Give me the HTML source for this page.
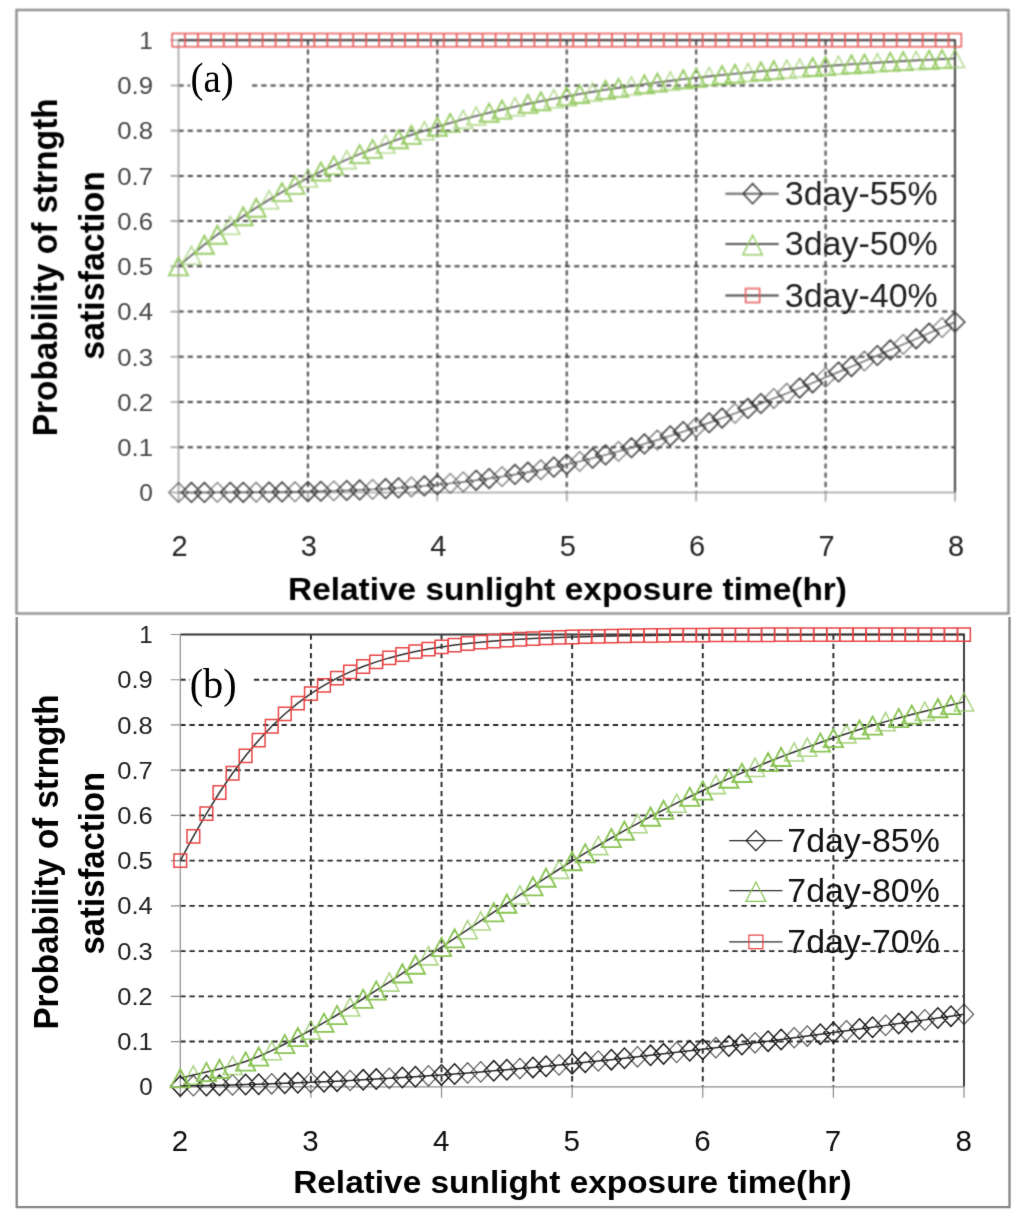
<!DOCTYPE html>
<html lang="en"><head><meta charset="utf-8"><title>Probability of strength satisfaction</title>
<style>html,body{margin:0;padding:0;background:#fff}body{width:1024px;height:1221px;overflow:hidden}svg{display:block}</style></head>
<body>
<svg width="1024" height="1221" viewBox="0 0 1024 1221">
<defs>
<filter id="fAs" x="0" y="0" width="1024" height="616" filterUnits="userSpaceOnUse" color-interpolation-filters="sRGB"><feConvolveMatrix order="3" kernelMatrix="0.0791 0.1230 0.0791 0.1230 0.1914 0.1230 0.0791 0.1230 0.0791"/></filter>
<filter id="fAt" x="0" y="0" width="1024" height="616" filterUnits="userSpaceOnUse" color-interpolation-filters="sRGB"><feConvolveMatrix order="3" kernelMatrix="0.0324 0.1152 0.0324 0.1152 0.4096 0.1152 0.0324 0.1152 0.0324"/></filter>
<filter id="fAl" x="0" y="0" width="1024" height="616" filterUnits="userSpaceOnUse" color-interpolation-filters="sRGB"><feConvolveMatrix order="3" kernelMatrix="0.0038 0.0537 0.0038 0.0537 0.7700 0.0537 0.0038 0.0537 0.0038"/></filter>
<filter id="fBs" x="0" y="612" width="1024" height="609" filterUnits="userSpaceOnUse" color-interpolation-filters="sRGB"><feConvolveMatrix order="3" kernelMatrix="0.0103 0.0807 0.0103 0.0807 0.6360 0.0807 0.0103 0.0807 0.0103"/></filter>
<filter id="fBt" x="0" y="612" width="1024" height="609" filterUnits="userSpaceOnUse" color-interpolation-filters="sRGB"><feConvolveMatrix order="3" kernelMatrix="0.0064 0.0672 0.0064 0.0672 0.7056 0.0672 0.0064 0.0672 0.0064"/></filter>
<filter id="fBl" x="0" y="612" width="1024" height="609" filterUnits="userSpaceOnUse" color-interpolation-filters="sRGB"><feConvolveMatrix order="3" kernelMatrix="0.0038 0.0537 0.0038 0.0537 0.7700 0.0537 0.0038 0.0537 0.0038"/></filter>
</defs>
<rect width="1024" height="1221" fill="#fff"/>
<g id="panel-a">
<g filter="url(#fAs)">
<rect x="16.5" y="10" width="992" height="603.5" fill="none" stroke="#8c8c8c" stroke-width="2.3"/>
<line x1="178.5" y1="447.27" x2="955" y2="447.27" stroke="#464646" stroke-width="2.0" stroke-dasharray="5.2 4.0"/>
<line x1="178.5" y1="402.04" x2="955" y2="402.04" stroke="#464646" stroke-width="2.0" stroke-dasharray="5.2 4.0"/>
<line x1="178.5" y1="356.81" x2="955" y2="356.81" stroke="#464646" stroke-width="2.0" stroke-dasharray="5.2 4.0"/>
<line x1="178.5" y1="311.58" x2="955" y2="311.58" stroke="#464646" stroke-width="2.0" stroke-dasharray="5.2 4.0"/>
<line x1="178.5" y1="266.35" x2="955" y2="266.35" stroke="#464646" stroke-width="2.0" stroke-dasharray="5.2 4.0"/>
<line x1="178.5" y1="221.12" x2="955" y2="221.12" stroke="#464646" stroke-width="2.0" stroke-dasharray="5.2 4.0"/>
<line x1="178.5" y1="175.89" x2="955" y2="175.89" stroke="#464646" stroke-width="2.0" stroke-dasharray="5.2 4.0"/>
<line x1="178.5" y1="130.66" x2="955" y2="130.66" stroke="#464646" stroke-width="2.0" stroke-dasharray="5.2 4.0"/>
<line x1="178.5" y1="85.43" x2="955" y2="85.43" stroke="#464646" stroke-width="2.0" stroke-dasharray="5.2 4.0"/>
<line x1="307.92" y1="40.2" x2="307.92" y2="492.5" stroke="#464646" stroke-width="2.0" stroke-dasharray="5.2 4.0"/>
<line x1="437.33" y1="40.2" x2="437.33" y2="492.5" stroke="#464646" stroke-width="2.0" stroke-dasharray="5.2 4.0"/>
<line x1="566.75" y1="40.2" x2="566.75" y2="492.5" stroke="#464646" stroke-width="2.0" stroke-dasharray="5.2 4.0"/>
<line x1="696.17" y1="40.2" x2="696.17" y2="492.5" stroke="#464646" stroke-width="2.0" stroke-dasharray="5.2 4.0"/>
<line x1="825.58" y1="40.2" x2="825.58" y2="492.5" stroke="#464646" stroke-width="2.0" stroke-dasharray="5.2 4.0"/>
<path d="M178.5 40.2H955V492.5" fill="none" stroke="#484848" stroke-width="2.1"/>
<path d="M178.5 40.2V501.5M170.5 492.5H955M170.5 447.27H178.5M170.5 402.04H178.5M170.5 356.81H178.5M170.5 311.58H178.5M170.5 266.35H178.5M170.5 221.12H178.5M170.5 175.89H178.5M170.5 130.66H178.5M170.5 85.43H178.5M170.5 40.2H178.5M307.92 492.5V501.5M437.33 492.5V501.5M566.75 492.5V501.5M696.17 492.5V501.5M825.58 492.5V501.5M955 492.5V501.5" fill="none" stroke="#a0a0a0" stroke-width="1.6"/>
<rect x="190" y="56" width="62" height="50" fill="#fff"/>
<polyline fill="none" stroke="#666" stroke-width="1.4" points="178.5,492.48 191.44,492.47 204.38,492.45 217.32,492.41 230.27,492.37 243.21,492.31 256.15,492.23 269.09,492.11 282.03,491.97 294.97,491.79 307.92,491.55 320.86,491.26 333.8,490.91 346.74,490.49 359.68,489.98 372.62,489.38 385.57,488.69 398.51,487.88 411.45,486.96 424.39,485.91 437.33,484.73 450.27,483.4 463.22,481.93 476.16,480.31 489.1,478.53 502.04,476.58 514.98,474.47 527.92,472.19 540.87,469.73 553.81,467.11 566.75,464.31 579.69,461.33 592.63,458.19 605.58,454.88 618.52,451.4 631.46,447.75 644.4,443.95 657.34,439.99 670.28,435.89 683.23,431.64 696.17,427.26 709.11,422.74 722.05,418.1 734.99,413.35 747.93,408.48 760.88,403.51 773.82,398.45 786.76,393.31 799.7,388.08 812.64,382.78 825.58,377.42 838.53,372.01 851.47,366.55 864.41,361.05 877.35,355.51 890.29,349.95 903.23,344.37 916.18,338.78 929.12,333.18 942.06,327.59 955,322"/>
<path d="M181.64 492.47L191.44 482.67L201.24 492.47L191.44 502.27zM194.58 492.45L204.38 482.65L214.18 492.45L204.38 502.25zM220.47 492.37L230.27 482.57L240.07 492.37L230.27 502.17zM233.41 492.31L243.21 482.51L253.01 492.31L243.21 502.11zM259.29 492.11L269.09 482.31L278.89 492.11L269.09 501.91zM272.23 491.97L282.03 482.17L291.83 491.97L282.03 501.77zM298.12 491.55L307.92 481.75L317.72 491.55L307.92 501.35zM311.06 491.26L320.86 481.46L330.66 491.26L320.86 501.06zM336.94 490.49L346.74 480.69L356.54 490.49L346.74 500.29zM349.88 489.98L359.68 480.18L369.48 489.98L359.68 499.78zM375.77 488.69L385.57 478.89L395.37 488.69L385.57 498.49zM388.71 487.88L398.51 478.08L408.31 487.88L398.51 497.68zM414.59 485.91L424.39 476.11L434.19 485.91L424.39 495.71zM427.53 484.73L437.33 474.93L447.13 484.73L437.33 494.53zM466.36 480.31L476.16 470.51L485.96 480.31L476.16 490.11zM479.3 478.53L489.1 468.73L498.9 478.53L489.1 488.33zM505.18 474.47L514.98 464.67L524.78 474.47L514.98 484.27zM518.12 472.19L527.92 462.39L537.72 472.19L527.92 481.99zM544.01 467.11L553.81 457.31L563.61 467.11L553.81 476.91zM556.95 464.31L566.75 454.51L576.55 464.31L566.75 474.11zM582.83 458.19L592.63 448.39L602.43 458.19L592.63 467.99zM595.78 454.88L605.58 445.08L615.38 454.88L605.58 464.68zM621.66 447.75L631.46 437.95L641.26 447.75L631.46 457.55zM634.6 443.95L644.4 434.15L654.2 443.95L644.4 453.75zM660.48 435.89L670.28 426.09L680.08 435.89L670.28 445.69zM673.43 431.64L683.23 421.84L693.03 431.64L683.23 441.44zM699.31 422.74L709.11 412.94L718.91 422.74L709.11 432.54zM712.25 418.1L722.05 408.3L731.85 418.1L722.05 427.9zM738.13 408.48L747.93 398.68L757.73 408.48L747.93 418.28zM751.08 403.51L760.88 393.71L770.67 403.51L760.88 413.31zM789.9 388.08L799.7 378.28L809.5 388.08L799.7 397.88zM802.84 382.78L812.64 372.98L822.44 382.78L812.64 392.58zM828.73 372.01L838.53 362.21L848.33 372.01L838.53 381.81zM841.67 366.55L851.47 356.75L861.27 366.55L851.47 376.35zM867.55 355.51L877.35 345.71L887.15 355.51L877.35 365.31zM880.49 349.95L890.29 340.15L900.09 349.95L890.29 359.75zM906.38 338.78L916.18 328.98L925.98 338.78L916.18 348.58zM919.32 333.18L929.12 323.38L938.92 333.18L929.12 342.98zM945.2 322L955 312.2L964.8 322L955 331.8z" fill="none" stroke="#383838" stroke-width="1.5" stroke-linejoin="miter"/>
<path d="M168.7 492.48L178.5 482.68L188.3 492.48L178.5 502.28zM207.52 492.41L217.32 482.61L227.12 492.41L217.32 502.21zM246.35 492.23L256.15 482.43L265.95 492.23L256.15 502.03zM285.17 491.79L294.97 481.99L304.77 491.79L294.97 501.59zM324 490.91L333.8 481.11L343.6 490.91L333.8 500.71zM362.82 489.38L372.62 479.58L382.43 489.38L372.62 499.18zM401.65 486.96L411.45 477.16L421.25 486.96L411.45 496.76zM440.47 483.4L450.27 473.6L460.07 483.4L450.27 493.2zM453.42 481.93L463.22 472.13L473.02 481.93L463.22 491.73zM492.24 476.58L502.04 466.78L511.84 476.58L502.04 486.38zM531.07 469.73L540.87 459.93L550.67 469.73L540.87 479.53zM569.89 461.33L579.69 451.53L589.49 461.33L579.69 471.13zM608.72 451.4L618.52 441.6L628.32 451.4L618.52 461.2zM647.54 439.99L657.34 430.19L667.14 439.99L657.34 449.79zM686.37 427.26L696.17 417.46L705.97 427.26L696.17 437.06zM725.19 413.35L734.99 403.55L744.79 413.35L734.99 423.15zM764.02 398.45L773.82 388.65L783.62 398.45L773.82 408.25zM776.96 393.31L786.76 383.51L796.56 393.31L786.76 403.11zM815.78 377.42L825.58 367.62L835.38 377.42L825.58 387.22zM854.61 361.05L864.41 351.25L874.21 361.05L864.41 370.85zM893.43 344.37L903.23 334.57L913.03 344.37L903.23 354.17zM932.26 327.59L942.06 317.79L951.86 327.59L942.06 337.39z" fill="none" stroke="#383838" stroke-width="1.27" stroke-opacity="0.7" stroke-linejoin="miter"/>
<polyline fill="none" stroke="#555" stroke-width="1.6" points="178.5,266.35 191.44,255.26 204.38,244.73 217.32,234.74 230.27,225.26 243.21,216.28 256.15,207.77 269.09,199.71 282.03,192.08 294.97,184.86 307.92,178.02 320.86,171.55 333.8,165.42 346.74,159.62 359.68,154.12 372.62,148.92 385.57,143.99 398.51,139.31 411.45,134.88 424.39,130.68 437.33,126.69 450.27,122.91 463.22,119.32 476.16,115.92 489.1,112.68 502.04,109.6 514.98,106.68 527.92,103.9 540.87,101.26 553.81,98.74 566.75,96.35 579.69,94.07 592.63,91.9 605.58,89.83 618.52,87.86 631.46,85.98 644.4,84.19 657.34,82.48 670.28,80.85 683.23,79.29 696.17,77.8 709.11,76.38 722.05,75.03 734.99,73.73 747.93,72.49 760.88,71.3 773.82,70.16 786.76,69.08 799.7,68.04 812.64,67.04 825.58,66.08 838.53,65.17 851.47,64.29 864.41,63.45 877.35,62.65 890.29,61.87 903.23,61.13 916.18,60.42 929.12,59.73 942.06,59.08 955,58.45"/>
<path d="M178.5 257.35L188 275.35L169 275.35zM204.38 235.73L213.88 253.73L194.88 253.73zM217.32 225.74L226.82 243.74L207.82 243.74zM243.21 207.28L252.71 225.28L233.71 225.28zM256.15 198.77L265.65 216.77L246.65 216.77zM282.03 183.08L291.53 201.08L272.53 201.08zM294.97 175.86L304.47 193.86L285.47 193.86zM320.86 162.55L330.36 180.55L311.36 180.55zM333.8 156.42L343.3 174.42L324.3 174.42zM359.68 145.12L369.18 163.12L350.18 163.12zM372.62 139.92L382.12 157.92L363.12 157.92zM398.51 130.31L408.01 148.31L389.01 148.31zM411.45 125.88L420.95 143.88L401.95 143.88zM437.33 117.69L446.83 135.69L427.83 135.69zM450.27 113.91L459.77 131.91L440.77 131.91zM489.1 103.68L498.6 121.68L479.6 121.68zM502.04 100.6L511.54 118.6L492.54 118.6zM527.92 94.9L537.42 112.9L518.42 112.9zM540.87 92.26L550.37 110.26L531.37 110.26zM566.75 87.35L576.25 105.35L557.25 105.35zM579.69 85.07L589.19 103.07L570.19 103.07zM605.58 80.83L615.08 98.83L596.08 98.83zM618.52 78.86L628.02 96.86L609.02 96.86zM644.4 75.19L653.9 93.19L634.9 93.19zM657.34 73.48L666.84 91.48L647.84 91.48zM683.23 70.29L692.73 88.29L673.73 88.29zM696.17 68.8L705.67 86.8L686.67 86.8zM722.05 66.03L731.55 84.03L712.55 84.03zM734.99 64.73L744.49 82.73L725.49 82.73zM760.88 62.3L770.38 80.3L751.38 80.3zM773.82 61.16L783.32 79.16L764.32 79.16zM812.64 58.04L822.14 76.04L803.14 76.04zM825.58 57.08L835.08 75.08L816.08 75.08zM851.47 55.29L860.97 73.29L841.97 73.29zM864.41 54.45L873.91 72.45L854.91 72.45zM890.29 52.87L899.79 70.87L880.79 70.87zM903.23 52.13L912.73 70.13L893.73 70.13zM929.12 50.73L938.62 68.73L919.62 68.73zM942.06 50.08L951.56 68.08L932.56 68.08z" fill="none" stroke="#98cc66" stroke-width="1.9" stroke-linejoin="miter"/>
<path d="M191.44 246.26L200.94 264.26L181.94 264.26zM230.27 216.26L239.77 234.26L220.77 234.26zM269.09 190.71L278.59 208.71L259.59 208.71zM307.92 169.02L317.42 187.02L298.42 187.02zM346.74 150.62L356.24 168.62L337.24 168.62zM385.57 134.99L395.07 152.99L376.07 152.99zM424.39 121.68L433.89 139.68L414.89 139.68zM463.22 110.32L472.72 128.32L453.72 128.32zM476.16 106.92L485.66 124.92L466.66 124.92zM514.98 97.68L524.48 115.68L505.48 115.68zM553.81 89.74L563.31 107.74L544.31 107.74zM592.63 82.9L602.13 100.9L583.13 100.9zM631.46 76.98L640.96 94.98L621.96 94.98zM670.28 71.85L679.78 89.85L660.78 89.85zM709.11 67.38L718.61 85.38L699.61 85.38zM747.93 63.49L757.43 81.49L738.43 81.49zM786.76 60.08L796.26 78.08L777.26 78.08zM799.7 59.04L809.2 77.04L790.2 77.04zM838.53 56.17L848.03 74.17L829.03 74.17zM877.35 53.65L886.85 71.65L867.85 71.65zM916.18 51.42L925.68 69.42L906.68 69.42zM955 49.45L964.5 67.45L945.5 67.45z" fill="none" stroke="#98cc66" stroke-width="1.61" stroke-opacity="0.7" stroke-linejoin="miter"/>
<polyline fill="none" stroke="#444" stroke-width="1.8" points="178.5,40.2 191.44,40.2 204.38,40.2 217.32,40.2 230.27,40.2 243.21,40.2 256.15,40.2 269.09,40.2 282.03,40.2 294.97,40.2 307.92,40.2 320.86,40.2 333.8,40.2 346.74,40.2 359.68,40.2 372.62,40.2 385.57,40.2 398.51,40.2 411.45,40.2 424.39,40.2 437.33,40.2 450.27,40.2 463.22,40.2 476.16,40.2 489.1,40.2 502.04,40.2 514.98,40.2 527.92,40.2 540.87,40.2 553.81,40.2 566.75,40.2 579.69,40.2 592.63,40.2 605.58,40.2 618.52,40.2 631.46,40.2 644.4,40.2 657.34,40.2 670.28,40.2 683.23,40.2 696.17,40.2 709.11,40.2 722.05,40.2 734.99,40.2 747.93,40.2 760.88,40.2 773.82,40.2 786.76,40.2 799.7,40.2 812.64,40.2 825.58,40.2 838.53,40.2 851.47,40.2 864.41,40.2 877.35,40.2 890.29,40.2 903.23,40.2 916.18,40.2 929.12,40.2 942.06,40.2 955,40.2"/>
<path d="M172.15 33.6h12.7v13.2h-12.7zM185.09 33.6h12.7v13.2h-12.7zM198.03 33.6h12.7v13.2h-12.7zM210.97 33.6h12.7v13.2h-12.7zM223.92 33.6h12.7v13.2h-12.7zM236.86 33.6h12.7v13.2h-12.7zM249.8 33.6h12.7v13.2h-12.7zM262.74 33.6h12.7v13.2h-12.7zM275.68 33.6h12.7v13.2h-12.7zM288.62 33.6h12.7v13.2h-12.7zM301.57 33.6h12.7v13.2h-12.7zM314.51 33.6h12.7v13.2h-12.7zM327.45 33.6h12.7v13.2h-12.7zM340.39 33.6h12.7v13.2h-12.7zM353.33 33.6h12.7v13.2h-12.7zM366.27 33.6h12.7v13.2h-12.7zM379.22 33.6h12.7v13.2h-12.7zM392.16 33.6h12.7v13.2h-12.7zM405.1 33.6h12.7v13.2h-12.7zM418.04 33.6h12.7v13.2h-12.7zM430.98 33.6h12.7v13.2h-12.7zM443.92 33.6h12.7v13.2h-12.7zM456.87 33.6h12.7v13.2h-12.7zM469.81 33.6h12.7v13.2h-12.7zM482.75 33.6h12.7v13.2h-12.7zM495.69 33.6h12.7v13.2h-12.7zM508.63 33.6h12.7v13.2h-12.7zM521.57 33.6h12.7v13.2h-12.7zM534.52 33.6h12.7v13.2h-12.7zM547.46 33.6h12.7v13.2h-12.7zM560.4 33.6h12.7v13.2h-12.7zM573.34 33.6h12.7v13.2h-12.7zM586.28 33.6h12.7v13.2h-12.7zM599.23 33.6h12.7v13.2h-12.7zM612.17 33.6h12.7v13.2h-12.7zM625.11 33.6h12.7v13.2h-12.7zM638.05 33.6h12.7v13.2h-12.7zM650.99 33.6h12.7v13.2h-12.7zM663.93 33.6h12.7v13.2h-12.7zM676.88 33.6h12.7v13.2h-12.7zM689.82 33.6h12.7v13.2h-12.7zM702.76 33.6h12.7v13.2h-12.7zM715.7 33.6h12.7v13.2h-12.7zM728.64 33.6h12.7v13.2h-12.7zM741.58 33.6h12.7v13.2h-12.7zM754.52 33.6h12.7v13.2h-12.7zM767.47 33.6h12.7v13.2h-12.7zM780.41 33.6h12.7v13.2h-12.7zM793.35 33.6h12.7v13.2h-12.7zM806.29 33.6h12.7v13.2h-12.7zM819.23 33.6h12.7v13.2h-12.7zM832.18 33.6h12.7v13.2h-12.7zM845.12 33.6h12.7v13.2h-12.7zM858.06 33.6h12.7v13.2h-12.7zM871 33.6h12.7v13.2h-12.7zM883.94 33.6h12.7v13.2h-12.7zM896.88 33.6h12.7v13.2h-12.7zM909.83 33.6h12.7v13.2h-12.7zM922.77 33.6h12.7v13.2h-12.7zM935.71 33.6h12.7v13.2h-12.7zM948.65 33.6h12.7v13.2h-12.7z" fill="none" stroke="#ea5858" stroke-width="1.5" stroke-linejoin="miter"/>
<line x1="725.4" y1="193.7" x2="778.7" y2="193.7" stroke="#666" stroke-width="2"/>
<path d="M743.1 193.7L752.6 183.7L762.1 193.7L752.6 203.7z" fill="none" stroke="#383838" stroke-width="1.5"/>
<line x1="725.4" y1="244" x2="778.7" y2="244" stroke="#555" stroke-width="2"/>
<path d="M752.6 235.25L762.35 254.75L742.85 254.75z" fill="none" stroke="#98cc66" stroke-width="1.5"/>
<line x1="725.4" y1="295.5" x2="778.7" y2="295.5" stroke="#444" stroke-width="2"/>
<path d="M745.6 288.5h14v14h-14z" fill="none" stroke="#ea5858" stroke-width="1.5"/>
</g>
<g filter="url(#fAl)">
<text x="190.5" y="91.6" font-family="'Liberation Serif', serif" font-size="43" fill="#000" textLength="43.2" lengthAdjust="spacingAndGlyphs">(a)</text>
</g>
<g filter="url(#fAt)">
<text x="153" y="501.3" text-anchor="end" font-family="'Liberation Sans', sans-serif" font-size="24.5" fill="#484848">0</text>
<text x="153" y="456.07" text-anchor="end" font-family="'Liberation Sans', sans-serif" font-size="24.5" fill="#484848" textLength="35.8" lengthAdjust="spacingAndGlyphs">0.1</text>
<text x="153" y="410.84" text-anchor="end" font-family="'Liberation Sans', sans-serif" font-size="24.5" fill="#484848" textLength="35.8" lengthAdjust="spacingAndGlyphs">0.2</text>
<text x="153" y="365.61" text-anchor="end" font-family="'Liberation Sans', sans-serif" font-size="24.5" fill="#484848" textLength="35.8" lengthAdjust="spacingAndGlyphs">0.3</text>
<text x="153" y="320.38" text-anchor="end" font-family="'Liberation Sans', sans-serif" font-size="24.5" fill="#484848" textLength="35.8" lengthAdjust="spacingAndGlyphs">0.4</text>
<text x="153" y="275.15" text-anchor="end" font-family="'Liberation Sans', sans-serif" font-size="24.5" fill="#484848" textLength="35.8" lengthAdjust="spacingAndGlyphs">0.5</text>
<text x="153" y="229.92" text-anchor="end" font-family="'Liberation Sans', sans-serif" font-size="24.5" fill="#484848" textLength="35.8" lengthAdjust="spacingAndGlyphs">0.6</text>
<text x="153" y="184.69" text-anchor="end" font-family="'Liberation Sans', sans-serif" font-size="24.5" fill="#484848" textLength="35.8" lengthAdjust="spacingAndGlyphs">0.7</text>
<text x="153" y="139.46" text-anchor="end" font-family="'Liberation Sans', sans-serif" font-size="24.5" fill="#484848" textLength="35.8" lengthAdjust="spacingAndGlyphs">0.8</text>
<text x="153" y="94.23" text-anchor="end" font-family="'Liberation Sans', sans-serif" font-size="24.5" fill="#484848" textLength="35.8" lengthAdjust="spacingAndGlyphs">0.9</text>
<text x="153" y="49" text-anchor="end" font-family="'Liberation Sans', sans-serif" font-size="24.5" fill="#484848">1</text>
<text x="179.5" y="556.2" text-anchor="middle" font-family="'Liberation Sans', sans-serif" font-size="29" fill="#262626">2</text>
<text x="308.92" y="556.2" text-anchor="middle" font-family="'Liberation Sans', sans-serif" font-size="29" fill="#262626">3</text>
<text x="438.33" y="556.2" text-anchor="middle" font-family="'Liberation Sans', sans-serif" font-size="29" fill="#262626">4</text>
<text x="567.75" y="556.2" text-anchor="middle" font-family="'Liberation Sans', sans-serif" font-size="29" fill="#262626">5</text>
<text x="697.17" y="556.2" text-anchor="middle" font-family="'Liberation Sans', sans-serif" font-size="29" fill="#262626">6</text>
<text x="826.58" y="556.2" text-anchor="middle" font-family="'Liberation Sans', sans-serif" font-size="29" fill="#262626">7</text>
<text x="956" y="556.2" text-anchor="middle" font-family="'Liberation Sans', sans-serif" font-size="29" fill="#262626">8</text>
<text x="288" y="599.8" font-family="'Liberation Sans', sans-serif" font-weight="bold" font-size="32" fill="#000" textLength="559" lengthAdjust="spacingAndGlyphs">Relative sunlight exposure time(hr)</text>
<text transform="translate(57.3 267.3) rotate(-90)" x="-169.0" y="0" font-family="'Liberation Sans', sans-serif" font-weight="bold" font-size="35.5" fill="#000" textLength="338" lengthAdjust="spacingAndGlyphs">Probability of strngth</text>
<text transform="translate(103.6 265.4) rotate(-90)" x="-94.25" y="0" font-family="'Liberation Sans', sans-serif" font-weight="bold" font-size="35.5" fill="#000" textLength="188.5" lengthAdjust="spacingAndGlyphs">satisfaction</text>
<text x="784.8" y="204.7" font-family="'Liberation Sans', sans-serif" font-size="33" fill="#222" textLength="153" lengthAdjust="spacingAndGlyphs">3day-55%</text>
<text x="784.8" y="255" font-family="'Liberation Sans', sans-serif" font-size="33" fill="#222" textLength="153" lengthAdjust="spacingAndGlyphs">3day-50%</text>
<text x="784.8" y="306.5" font-family="'Liberation Sans', sans-serif" font-size="33" fill="#222" textLength="153" lengthAdjust="spacingAndGlyphs">3day-40%</text></g>
</g>
<g id="panel-b">
<g filter="url(#fBs)">
<path d="M16.7 617V1207.2H1009.5V617" fill="none" stroke="#868686" stroke-width="2.3"/>
<line x1="180.3" y1="1041.57" x2="964" y2="1041.57" stroke="#2a2a2a" stroke-width="1.9" stroke-dasharray="5.3 3.9"/>
<line x1="180.3" y1="996.34" x2="964" y2="996.34" stroke="#2a2a2a" stroke-width="1.9" stroke-dasharray="5.3 3.9"/>
<line x1="180.3" y1="951.11" x2="964" y2="951.11" stroke="#2a2a2a" stroke-width="1.9" stroke-dasharray="5.3 3.9"/>
<line x1="180.3" y1="905.88" x2="964" y2="905.88" stroke="#2a2a2a" stroke-width="1.9" stroke-dasharray="5.3 3.9"/>
<line x1="180.3" y1="860.65" x2="964" y2="860.65" stroke="#2a2a2a" stroke-width="1.9" stroke-dasharray="5.3 3.9"/>
<line x1="180.3" y1="815.42" x2="964" y2="815.42" stroke="#2a2a2a" stroke-width="1.9" stroke-dasharray="5.3 3.9"/>
<line x1="180.3" y1="770.19" x2="964" y2="770.19" stroke="#2a2a2a" stroke-width="1.9" stroke-dasharray="5.3 3.9"/>
<line x1="180.3" y1="724.96" x2="964" y2="724.96" stroke="#2a2a2a" stroke-width="1.9" stroke-dasharray="5.3 3.9"/>
<line x1="180.3" y1="679.73" x2="964" y2="679.73" stroke="#2a2a2a" stroke-width="1.9" stroke-dasharray="5.3 3.9"/>
<line x1="310.92" y1="634.5" x2="310.92" y2="1086.8" stroke="#2a2a2a" stroke-width="1.9" stroke-dasharray="5.3 3.9"/>
<line x1="441.53" y1="634.5" x2="441.53" y2="1086.8" stroke="#2a2a2a" stroke-width="1.9" stroke-dasharray="5.3 3.9"/>
<line x1="572.15" y1="634.5" x2="572.15" y2="1086.8" stroke="#2a2a2a" stroke-width="1.9" stroke-dasharray="5.3 3.9"/>
<line x1="702.77" y1="634.5" x2="702.77" y2="1086.8" stroke="#2a2a2a" stroke-width="1.9" stroke-dasharray="5.3 3.9"/>
<line x1="833.38" y1="634.5" x2="833.38" y2="1086.8" stroke="#2a2a2a" stroke-width="1.9" stroke-dasharray="5.3 3.9"/>
<path d="M180.3 634.5H964V1086.8" fill="none" stroke="#383838" stroke-width="1.9"/>
<path d="M180.3 634.5V1097.8M170.8 1086.8H964M170.8 1041.57H180.3M170.8 996.34H180.3M170.8 951.11H180.3M170.8 905.88H180.3M170.8 860.65H180.3M170.8 815.42H180.3M170.8 770.19H180.3M170.8 724.96H180.3M170.8 679.73H180.3M170.8 634.5H180.3M310.92 1086.8V1097.8M441.53 1086.8V1097.8M572.15 1086.8V1097.8M702.77 1086.8V1097.8M833.38 1086.8V1097.8M964 1086.8V1097.8" fill="none" stroke="#8c8c8c" stroke-width="1.2"/>
<rect x="190" y="660" width="62.5" height="52" fill="#fff"/>
<polyline fill="none" stroke="#2a2a2a" stroke-width="1.5" points="180.3,1085.91 193.36,1085.7 206.42,1085.46 219.48,1085.19 232.55,1084.89 245.61,1084.56 258.67,1084.18 271.73,1083.78 284.79,1083.33 297.86,1082.84 310.92,1082.32 323.98,1081.76 337.04,1081.16 350.1,1080.51 363.16,1079.83 376.23,1079.11 389.29,1078.34 402.35,1077.54 415.41,1076.7 428.47,1075.82 441.53,1074.9 454.59,1073.94 467.66,1072.94 480.72,1071.9 493.78,1070.83 506.84,1069.72 519.9,1068.58 532.97,1067.4 546.03,1066.19 559.09,1064.94 572.15,1063.66 585.21,1062.35 598.27,1061.01 611.34,1059.64 624.4,1058.24 637.46,1056.81 650.52,1055.35 663.58,1053.87 676.64,1052.36 689.71,1050.82 702.77,1049.26 715.83,1047.68 728.89,1046.08 741.95,1044.45 755.01,1042.81 768.08,1041.14 781.14,1039.45 794.2,1037.75 807.26,1036.03 820.32,1034.29 833.38,1032.54 846.45,1030.77 859.51,1028.99 872.57,1027.19 885.63,1025.38 898.69,1023.56 911.75,1021.72 924.82,1019.88 937.88,1018.02 950.94,1016.16 964,1014.29"/>
<path d="M170.7 1085.91L180.3 1075.71L189.9 1085.91L180.3 1096.11zM196.82 1085.46L206.42 1075.26L216.02 1085.46L206.42 1095.66zM209.88 1085.19L219.48 1074.99L229.08 1085.19L219.48 1095.39zM236.01 1084.56L245.61 1074.36L255.21 1084.56L245.61 1094.76zM249.07 1084.18L258.67 1073.98L268.27 1084.18L258.67 1094.38zM275.19 1083.33L284.79 1073.13L294.39 1083.33L284.79 1093.53zM288.25 1082.84L297.86 1072.64L307.46 1082.84L297.86 1093.04zM314.38 1081.76L323.98 1071.56L333.58 1081.76L323.98 1091.96zM327.44 1081.16L337.04 1070.96L346.64 1081.16L337.04 1091.36zM353.56 1079.83L363.16 1069.63L372.76 1079.83L363.16 1090.03zM366.62 1079.11L376.23 1068.91L385.83 1079.11L376.23 1089.31zM392.75 1077.54L402.35 1067.34L411.95 1077.54L402.35 1087.74zM405.81 1076.7L415.41 1066.5L425.01 1076.7L415.41 1086.9zM431.93 1074.9L441.53 1064.7L451.13 1074.9L441.53 1085.1zM444.99 1073.94L454.59 1063.74L464.19 1073.94L454.59 1084.14zM484.18 1070.83L493.78 1060.63L503.38 1070.83L493.78 1081.03zM497.24 1069.72L506.84 1059.52L516.44 1069.72L506.84 1079.92zM523.37 1067.4L532.97 1057.2L542.57 1067.4L532.97 1077.6zM536.43 1066.19L546.03 1055.99L555.63 1066.19L546.03 1076.39zM562.55 1063.66L572.15 1053.46L581.75 1063.66L572.15 1073.86zM575.61 1062.35L585.21 1052.15L594.81 1062.35L585.21 1072.55zM601.74 1059.64L611.34 1049.44L620.94 1059.64L611.34 1069.84zM614.8 1058.24L624.4 1048.04L634 1058.24L624.4 1068.44zM640.92 1055.35L650.52 1045.15L660.12 1055.35L650.52 1065.55zM653.98 1053.87L663.58 1043.67L673.18 1053.87L663.58 1064.07zM680.11 1050.82L689.71 1040.62L699.31 1050.82L689.71 1061.02zM693.17 1049.26L702.77 1039.06L712.37 1049.26L702.77 1059.46zM719.29 1046.08L728.89 1035.88L738.49 1046.08L728.89 1056.28zM732.35 1044.45L741.95 1034.25L751.55 1044.45L741.95 1054.65zM758.48 1041.14L768.08 1030.94L777.68 1041.14L768.08 1051.34zM771.54 1039.45L781.14 1029.25L790.74 1039.45L781.14 1049.65zM810.72 1034.29L820.32 1024.09L829.92 1034.29L820.32 1044.49zM823.78 1032.54L833.38 1022.34L842.98 1032.54L833.38 1042.74zM849.91 1028.99L859.51 1018.79L869.11 1028.99L859.51 1039.19zM862.97 1027.19L872.57 1016.99L882.17 1027.19L872.57 1037.39zM889.09 1023.56L898.69 1013.36L908.29 1023.56L898.69 1033.76zM902.15 1021.72L911.75 1011.52L921.35 1021.72L911.75 1031.92zM928.28 1018.02L937.88 1007.82L947.48 1018.02L937.88 1028.22zM941.34 1016.16L950.94 1005.96L960.54 1016.16L950.94 1026.36z" fill="none" stroke="#1a1a1a" stroke-width="1.45" stroke-linejoin="miter"/>
<path d="M183.76 1085.7L193.36 1075.5L202.96 1085.7L193.36 1095.9zM222.95 1084.89L232.55 1074.69L242.15 1084.89L232.55 1095.09zM262.13 1083.78L271.73 1073.58L281.33 1083.78L271.73 1093.98zM301.32 1082.32L310.92 1072.12L320.52 1082.32L310.92 1092.52zM340.5 1080.51L350.1 1070.31L359.7 1080.51L350.1 1090.71zM379.69 1078.34L389.29 1068.14L398.89 1078.34L389.29 1088.54zM418.87 1075.82L428.47 1065.62L438.07 1075.82L428.47 1086.02zM458.06 1072.94L467.66 1062.74L477.26 1072.94L467.66 1083.14zM471.12 1071.9L480.72 1061.7L490.32 1071.9L480.72 1082.1zM510.3 1068.58L519.9 1058.38L529.5 1068.58L519.9 1078.78zM549.49 1064.94L559.09 1054.74L568.69 1064.94L559.09 1075.14zM588.67 1061.01L598.27 1050.81L607.87 1061.01L598.27 1071.21zM627.86 1056.81L637.46 1046.61L647.06 1056.81L637.46 1067.01zM667.04 1052.36L676.64 1042.16L686.24 1052.36L676.64 1062.56zM706.23 1047.68L715.83 1037.48L725.43 1047.68L715.83 1057.88zM745.41 1042.81L755.01 1032.61L764.61 1042.81L755.01 1053.01zM784.6 1037.75L794.2 1027.55L803.8 1037.75L794.2 1047.95zM797.66 1036.03L807.26 1025.83L816.86 1036.03L807.26 1046.23zM836.85 1030.77L846.45 1020.57L856.05 1030.77L846.45 1040.97zM876.03 1025.38L885.63 1015.18L895.23 1025.38L885.63 1035.58zM915.22 1019.88L924.82 1009.68L934.42 1019.88L924.82 1030.08zM954.4 1014.29L964 1004.09L973.6 1014.29L964 1024.49z" fill="none" stroke="#1a1a1a" stroke-width="1.23" stroke-opacity="0.7" stroke-linejoin="miter"/>
<polyline fill="none" stroke="#2f2f2f" stroke-width="1.5" points="180.3,1078.21 193.36,1075.02 206.42,1072 219.48,1068.9 232.55,1065.47 245.61,1061.47 258.67,1056.52 271.73,1050.61 284.79,1044.02 297.86,1037.05 310.92,1029.99 323.98,1022.72 337.04,1015 350.1,1006.97 363.16,998.75 376.23,990.46 389.29,982.04 402.35,973.38 415.41,964.6 428.47,955.79 441.53,947.04 454.59,938.34 467.66,929.63 480.72,920.92 493.78,912.24 506.84,903.62 519.9,894.97 532.97,886.29 546.03,877.69 559.09,869.25 572.15,861.1 585.21,853.22 598.27,845.52 611.34,838.01 624.4,830.69 637.46,823.56 650.52,816.61 663.58,809.82 676.64,803.2 689.71,796.77 702.77,790.54 715.83,784.5 728.89,778.61 741.95,772.89 755.01,767.37 768.08,762.05 781.14,756.92 794.2,751.96 807.26,747.17 820.32,742.54 833.38,738.08 846.45,733.75 859.51,729.56 872.57,725.51 885.63,721.63 898.69,717.95 911.75,714.51 924.82,711.27 937.88,708.14 950.94,705.05 964,701.89"/>
<path d="M180.3 1069.11L189.95 1087.31L170.65 1087.31zM206.42 1062.9L216.07 1081.1L196.77 1081.1zM219.48 1059.8L229.13 1078L209.83 1078zM245.61 1052.37L255.26 1070.57L235.96 1070.57zM258.67 1047.42L268.32 1065.62L249.02 1065.62zM284.79 1034.92L294.44 1053.12L275.14 1053.12zM297.86 1027.95L307.5 1046.15L288.21 1046.15zM323.98 1013.62L333.63 1031.82L314.33 1031.82zM337.04 1005.9L346.69 1024.1L327.39 1024.1zM363.16 989.65L372.81 1007.85L353.51 1007.85zM376.23 981.36L385.88 999.56L366.58 999.56zM402.35 964.28L412 982.48L392.7 982.48zM415.41 955.5L425.06 973.7L405.76 973.7zM441.53 937.94L451.18 956.14L431.88 956.14zM454.59 929.24L464.24 947.44L444.94 947.44zM493.78 903.14L503.43 921.34L484.13 921.34zM506.84 894.52L516.49 912.72L497.19 912.72zM532.97 877.19L542.62 895.39L523.32 895.39zM546.03 868.59L555.68 886.79L536.38 886.79zM572.15 852L581.8 870.2L562.5 870.2zM585.21 844.12L594.86 862.32L575.56 862.32zM611.34 828.91L620.99 847.11L601.69 847.11zM624.4 821.59L634.05 839.79L614.75 839.79zM650.52 807.51L660.17 825.71L640.87 825.71zM663.58 800.72L673.23 818.92L653.93 818.92zM689.71 787.67L699.36 805.87L680.06 805.87zM702.77 781.44L712.42 799.64L693.12 799.64zM728.89 769.51L738.54 787.71L719.24 787.71zM741.95 763.79L751.6 781.99L732.3 781.99zM768.08 752.95L777.73 771.15L758.43 771.15zM781.14 747.82L790.79 766.02L771.49 766.02zM820.32 733.44L829.97 751.64L810.67 751.64zM833.38 728.98L843.03 747.18L823.73 747.18zM859.51 720.46L869.16 738.66L849.86 738.66zM872.57 716.41L882.22 734.61L862.92 734.61zM898.69 708.85L908.34 727.05L889.04 727.05zM911.75 705.41L921.4 723.61L902.1 723.61zM937.88 699.04L947.53 717.24L928.23 717.24zM950.94 695.95L960.59 714.15L941.29 714.15z" fill="none" stroke="#8ac454" stroke-width="1.85" stroke-linejoin="miter"/>
<path d="M193.36 1065.92L203.01 1084.12L183.71 1084.12zM232.55 1056.37L242.2 1074.57L222.9 1074.57zM271.73 1041.51L281.38 1059.71L262.08 1059.71zM310.92 1020.89L320.57 1039.09L301.27 1039.09zM350.1 997.87L359.75 1016.07L340.45 1016.07zM389.29 972.94L398.94 991.14L379.64 991.14zM428.47 946.69L438.12 964.89L418.82 964.89zM467.66 920.53L477.31 938.73L458.01 938.73zM480.72 911.82L490.37 930.02L471.07 930.02zM519.9 885.87L529.55 904.07L510.25 904.07zM559.09 860.15L568.74 878.35L549.44 878.35zM598.27 836.42L607.92 854.62L588.62 854.62zM637.46 814.46L647.11 832.66L627.81 832.66zM676.64 794.1L686.29 812.3L666.99 812.3zM715.83 775.4L725.48 793.6L706.18 793.6zM755.01 758.27L764.66 776.47L745.36 776.47zM794.2 742.86L803.85 761.06L784.55 761.06zM807.26 738.07L816.91 756.27L797.61 756.27zM846.45 724.65L856.1 742.85L836.8 742.85zM885.63 712.53L895.28 730.73L875.98 730.73zM924.82 702.17L934.47 720.37L915.17 720.37zM964 692.79L973.65 710.99L954.35 710.99z" fill="none" stroke="#8ac454" stroke-width="1.57" stroke-opacity="0.7" stroke-linejoin="miter"/>
<polyline fill="none" stroke="#2f2f2f" stroke-width="1.5" points="180.3,860.65 193.36,836.34 206.42,813.56 219.48,792.5 232.55,773.25 245.61,755.83 258.67,740.2 271.73,726.27 284.79,713.95 297.86,703.11 310.92,693.61 323.98,685.33 337.04,678.13 350.1,671.9 363.16,666.52 376.23,661.89 389.29,657.9 402.35,654.48 415.41,651.55 428.47,649.05 441.53,646.91 454.59,645.08 467.66,643.52 480.72,642.18 493.78,641.05 506.84,640.08 519.9,639.26 532.97,638.56 546.03,637.96 559.09,637.45 572.15,637.02 585.21,636.65 598.27,636.34 611.34,636.07 624.4,635.84 637.46,635.65 650.52,635.48 663.58,635.34 676.64,635.22 689.71,635.12 702.77,635.03 715.83,634.95 728.89,634.89 741.95,634.84 755.01,634.79 768.08,634.75 781.14,634.71 794.2,634.68 807.26,634.66 820.32,634.64 833.38,634.62 846.45,634.6 859.51,634.59 872.57,634.58 885.63,634.57 898.69,634.56 911.75,634.55 924.82,634.54 937.88,634.54 950.94,634.53 964,634.53"/>
<path d="M173.95 854h12.7v13.3h-12.7zM187.01 829.69h12.7v13.3h-12.7zM200.07 806.91h12.7v13.3h-12.7zM213.13 785.85h12.7v13.3h-12.7zM226.2 766.6h12.7v13.3h-12.7zM239.26 749.18h12.7v13.3h-12.7zM252.32 733.55h12.7v13.3h-12.7zM265.38 719.62h12.7v13.3h-12.7zM278.44 707.3h12.7v13.3h-12.7zM291.5 696.46h12.7v13.3h-12.7zM304.57 686.96h12.7v13.3h-12.7zM317.63 678.68h12.7v13.3h-12.7zM330.69 671.48h12.7v13.3h-12.7zM343.75 665.25h12.7v13.3h-12.7zM356.81 659.87h12.7v13.3h-12.7zM369.88 655.24h12.7v13.3h-12.7zM382.94 651.25h12.7v13.3h-12.7zM396 647.83h12.7v13.3h-12.7zM409.06 644.9h12.7v13.3h-12.7zM422.12 642.4h12.7v13.3h-12.7zM435.18 640.26h12.7v13.3h-12.7zM448.24 638.43h12.7v13.3h-12.7zM461.31 636.87h12.7v13.3h-12.7zM474.37 635.53h12.7v13.3h-12.7zM487.43 634.4h12.7v13.3h-12.7zM500.49 633.43h12.7v13.3h-12.7zM513.55 632.61h12.7v13.3h-12.7zM526.62 631.91h12.7v13.3h-12.7zM539.68 631.31h12.7v13.3h-12.7zM552.74 630.8h12.7v13.3h-12.7zM565.8 630.37h12.7v13.3h-12.7zM578.86 630h12.7v13.3h-12.7zM591.92 629.69h12.7v13.3h-12.7zM604.99 629.42h12.7v13.3h-12.7zM618.05 629.19h12.7v13.3h-12.7zM631.11 629h12.7v13.3h-12.7zM644.17 628.83h12.7v13.3h-12.7zM657.23 628.69h12.7v13.3h-12.7zM670.29 628.57h12.7v13.3h-12.7zM683.36 628.47h12.7v13.3h-12.7zM696.42 628.38h12.7v13.3h-12.7zM709.48 628.3h12.7v13.3h-12.7zM722.54 628.24h12.7v13.3h-12.7zM735.6 628.19h12.7v13.3h-12.7zM748.66 628.14h12.7v13.3h-12.7zM761.73 628.1h12.7v13.3h-12.7zM774.79 628.06h12.7v13.3h-12.7zM787.85 628.03h12.7v13.3h-12.7zM800.91 628.01h12.7v13.3h-12.7zM813.97 627.99h12.7v13.3h-12.7zM827.03 627.97h12.7v13.3h-12.7zM840.1 627.95h12.7v13.3h-12.7zM853.16 627.94h12.7v13.3h-12.7zM866.22 627.93h12.7v13.3h-12.7zM879.28 627.92h12.7v13.3h-12.7zM892.34 627.91h12.7v13.3h-12.7zM905.4 627.9h12.7v13.3h-12.7zM918.47 627.89h12.7v13.3h-12.7zM931.53 627.89h12.7v13.3h-12.7zM944.59 627.88h12.7v13.3h-12.7zM957.65 627.88h12.7v13.3h-12.7z" fill="none" stroke="#e84444" stroke-width="1.5" stroke-linejoin="miter"/>
<line x1="729.2" y1="840.6" x2="782.5" y2="840.6" stroke="#2a2a2a" stroke-width="1.3"/>
<path d="M746.15 840.6L755.9 830.6L765.65 840.6L755.9 850.6z" fill="none" stroke="#1a1a1a" stroke-width="1.2"/>
<line x1="729.2" y1="890.7" x2="782.5" y2="890.7" stroke="#2f2f2f" stroke-width="1.3"/>
<path d="M755.9 881.95L765.9 901.45L745.9 901.45z" fill="none" stroke="#8ac454" stroke-width="1.2"/>
<line x1="729.2" y1="941.8" x2="782.5" y2="941.8" stroke="#2f2f2f" stroke-width="1.3"/>
<path d="M748.9 935.05h14v13.5h-14z" fill="none" stroke="#e84444" stroke-width="1.2"/>
</g>
<g filter="url(#fBl)">
<text x="189.7" y="698" font-family="'Liberation Serif', serif" font-size="41.8" fill="#000" textLength="47" lengthAdjust="spacingAndGlyphs">(b)</text>
</g>
<g filter="url(#fBt)">
<text x="152.7" y="1095.4" text-anchor="end" font-family="'Liberation Sans', sans-serif" font-size="24.2" fill="#222">0</text>
<text x="152.7" y="1050.17" text-anchor="end" font-family="'Liberation Sans', sans-serif" font-size="24.2" fill="#222" textLength="35.5" lengthAdjust="spacingAndGlyphs">0.1</text>
<text x="152.7" y="1004.94" text-anchor="end" font-family="'Liberation Sans', sans-serif" font-size="24.2" fill="#222" textLength="35.5" lengthAdjust="spacingAndGlyphs">0.2</text>
<text x="152.7" y="959.71" text-anchor="end" font-family="'Liberation Sans', sans-serif" font-size="24.2" fill="#222" textLength="35.5" lengthAdjust="spacingAndGlyphs">0.3</text>
<text x="152.7" y="914.48" text-anchor="end" font-family="'Liberation Sans', sans-serif" font-size="24.2" fill="#222" textLength="35.5" lengthAdjust="spacingAndGlyphs">0.4</text>
<text x="152.7" y="869.25" text-anchor="end" font-family="'Liberation Sans', sans-serif" font-size="24.2" fill="#222" textLength="35.5" lengthAdjust="spacingAndGlyphs">0.5</text>
<text x="152.7" y="824.02" text-anchor="end" font-family="'Liberation Sans', sans-serif" font-size="24.2" fill="#222" textLength="35.5" lengthAdjust="spacingAndGlyphs">0.6</text>
<text x="152.7" y="778.79" text-anchor="end" font-family="'Liberation Sans', sans-serif" font-size="24.2" fill="#222" textLength="35.5" lengthAdjust="spacingAndGlyphs">0.7</text>
<text x="152.7" y="733.56" text-anchor="end" font-family="'Liberation Sans', sans-serif" font-size="24.2" fill="#222" textLength="35.5" lengthAdjust="spacingAndGlyphs">0.8</text>
<text x="152.7" y="688.33" text-anchor="end" font-family="'Liberation Sans', sans-serif" font-size="24.2" fill="#222" textLength="35.5" lengthAdjust="spacingAndGlyphs">0.9</text>
<text x="152.7" y="643.1" text-anchor="end" font-family="'Liberation Sans', sans-serif" font-size="24.2" fill="#222">1</text>
<text x="179.9" y="1151" text-anchor="middle" font-family="'Liberation Sans', sans-serif" font-size="29.5" fill="#111">2</text>
<text x="310.52" y="1151" text-anchor="middle" font-family="'Liberation Sans', sans-serif" font-size="29.5" fill="#111">3</text>
<text x="441.13" y="1151" text-anchor="middle" font-family="'Liberation Sans', sans-serif" font-size="29.5" fill="#111">4</text>
<text x="571.75" y="1151" text-anchor="middle" font-family="'Liberation Sans', sans-serif" font-size="29.5" fill="#111">5</text>
<text x="702.37" y="1151" text-anchor="middle" font-family="'Liberation Sans', sans-serif" font-size="29.5" fill="#111">6</text>
<text x="832.98" y="1151" text-anchor="middle" font-family="'Liberation Sans', sans-serif" font-size="29.5" fill="#111">7</text>
<text x="963.6" y="1151" text-anchor="middle" font-family="'Liberation Sans', sans-serif" font-size="29.5" fill="#111">8</text>
<text x="293.2" y="1192.6" font-family="'Liberation Sans', sans-serif" font-weight="bold" font-size="32" fill="#000" textLength="558.5" lengthAdjust="spacingAndGlyphs">Relative sunlight exposure time(hr)</text>
<text transform="translate(58.3 862) rotate(-90)" x="-167.5" y="0" font-family="'Liberation Sans', sans-serif" font-weight="bold" font-size="35.5" fill="#000" textLength="335" lengthAdjust="spacingAndGlyphs">Probability of strngth</text>
<text transform="translate(103.8 863.2) rotate(-90)" x="-91.25" y="0" font-family="'Liberation Sans', sans-serif" font-weight="bold" font-size="35.5" fill="#000" textLength="182.5" lengthAdjust="spacingAndGlyphs">satisfaction</text>
<text x="787.3" y="851.9" font-family="'Liberation Sans', sans-serif" font-size="33" fill="#111" textLength="152.5" lengthAdjust="spacingAndGlyphs">7day-85%</text>
<text x="787.3" y="902" font-family="'Liberation Sans', sans-serif" font-size="33" fill="#111" textLength="152.5" lengthAdjust="spacingAndGlyphs">7day-80%</text>
<text x="787.3" y="953.1" font-family="'Liberation Sans', sans-serif" font-size="33" fill="#111" textLength="152.5" lengthAdjust="spacingAndGlyphs">7day-70%</text></g>
</g>
</svg>
</body></html>
